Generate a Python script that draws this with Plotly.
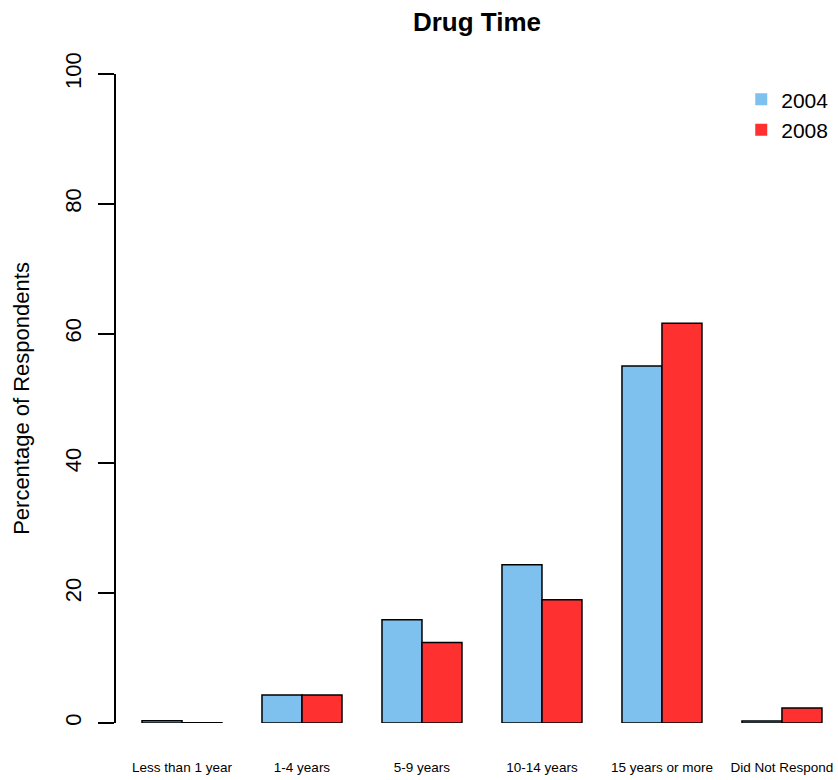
import plotly.graph_objects as go

categories = ["Less than 1 year", "1-4 years", "5-9 years", "10-14 years",
              "15 years or more", "Did Not Respond"]
values_2004 = [0.35, 4.3, 15.9, 24.4, 55.0, 0.3]
values_2008 = [0.05, 4.3, 12.4, 19.0, 61.6, 2.3]
series_names = ["2004", "2008"]
series_colors = ["#7EC0EE", "#FF3030"]
y_ticks = [0, 20, 40, 60, 80, 100]

W, H = 838, 780

fig = go.Figure()
for name, vals, col in zip(series_names, [values_2004, values_2008], series_colors):
    fig.add_trace(go.Bar(
        x=categories, y=vals, name=name, showlegend=False,
        marker=dict(color=col, line=dict(color="black", width=1.5)),
        cliponaxis=False,
    ))
for name, col in zip(series_names, series_colors):
    fig.add_trace(go.Scatter(
        x=[None], y=[None], mode="markers", name=name,
        marker=dict(symbol="square", size=9, color=col, line=dict(width=0)),
    ))

fig.update_layout(
    width=W, height=H,
    margin=dict(l=116, r=0, t=74, b=57, autoexpand=False),
    paper_bgcolor="white", plot_bgcolor="white",
    font=dict(family="Liberation Sans, Arial, sans-serif", color="black"),
    barmode="group", bargap=1/3, bargroupgap=0,
    title=dict(text="<b>Drug Time</b>", font=dict(size=26, color="black"),
               x=0.5, xref="paper", xanchor="center",
               y=1 - 22/H, yref="container", yanchor="middle"),
    xaxis=dict(type="category", range=[-0.55, 5.467], showline=False, showgrid=False,
               zeroline=False, ticks="", tickfont=dict(size=13.5), automargin=False,
               ticklabelstandoff=34),
    yaxis=dict(range=[0, 100], tickvals=y_ticks, ticktext=[str(v) for v in y_ticks],
               showline=True, linecolor="black", linewidth=1.5, automargin=False,
               ticks="outside", ticklen=16, tickwidth=1.5, tickcolor="black",
               tickangle=-90, tickfont=dict(size=22), showgrid=False, zeroline=False,
               ticklabelstandoff=8,
               title=dict(text="Percentage of Respondents", font=dict(size=22), standoff=26)),
    legend=dict(x=0.866, y=0.992, xanchor="left", yanchor="top",
                font=dict(size=21), bgcolor="rgba(0,0,0,0)", tracegroupgap=0,
                itemsizing="constant"),
)

fig.write_html(
    "out.html",
    config={"displayModeBar": False},
    post_script="document.body.style.margin='0';document.body.style.overflow='hidden';",
)
